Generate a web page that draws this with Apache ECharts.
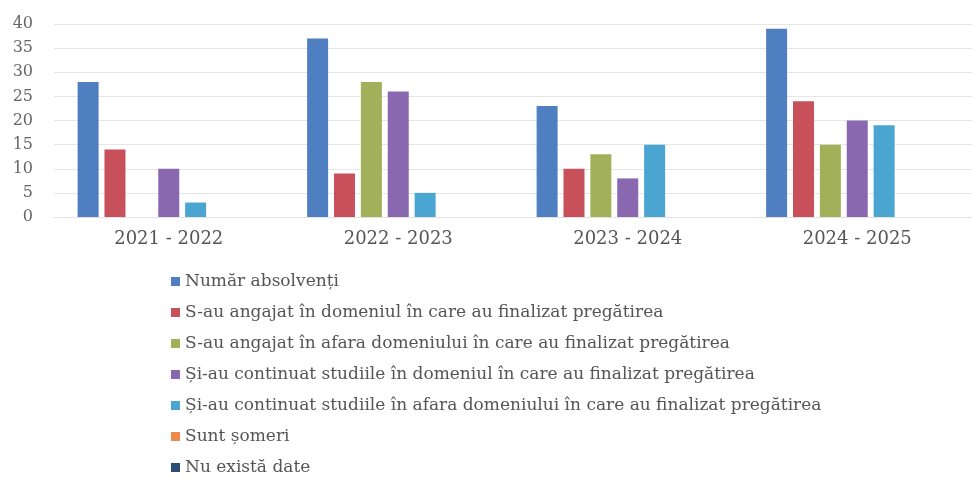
<!DOCTYPE html>
<html>
<head>
<meta charset="utf-8">
<script src="https://cdn.jsdelivr.net/npm/echarts@6/dist/echarts.min.js"></script>
<style>
  html, body { margin: 0; padding: 0; background: #fff; }
  #chart { width: 972px; height: 477px; }
</style>
</head>
<body>
<div id="chart"></div>
<script>
    // ani scolari
    var years = ['2021 - 2022', '2022 - 2023', '2023 - 2024', '2024 - 2025'];

    var seriesNames = [
        'Număr absolvenți',
        'S-au angajat în domeniul în care au finalizat pregătirea',
        'S-au angajat în afara domeniului în care au finalizat pregătirea',
        'Și-au continuat studiile în domeniul în care au finalizat pregătirea',
        'Și-au continuat studiile în afara domeniului în care au finalizat pregătirea',
        'Sunt șomeri',
        'Nu există date'
    ];

    var absolventi = [28, 37, 23, 39];
    var angajatDomeniu = [14, 9, 10, 24];
    var angajatAfara = [0, 28, 13, 15];
    var studiiDomeniu = [10, 26, 8, 20];
    var studiiAfara = [3, 5, 15, 19];
    var someri = [0, 0, 0, 0];
    var faraDate = [0, 0, 0, 0];

    var yTicks = [0, 5, 10, 15, 20, 25, 30, 35, 40];

    var values = [absolventi, angajatDomeniu, angajatAfara, studiiDomeniu, studiiAfara, someri, faraDate];
    var colors = ['#4f7fc0', '#c8505a', '#a3b05a', '#8a68b0', '#4aa6d0', '#f08a4b', '#2c4d75'];

    var font = 'DejaVu Serif';

    var chart = echarts.init(document.getElementById('chart'));

    var option = {
        backgroundColor: '#fff',
        animation: false,
        grid: { left: 54, right: -10, top: 24, bottom: 260 },
        legend: {
            orient: 'vertical',
            left: 166,
            top: 268,
            height: 209,
            itemWidth: 9,
            itemHeight: 9,
            itemGap: 14,
            icon: 'rect',
            data: seriesNames,
            textStyle: { fontFamily: font, fontSize: 17, color: '#555', lineHeight: 17 }
        },
        xAxis: {
            type: 'category',
            data: years,
            axisLine: { show: true, lineStyle: { color: '#e2e2e2' } },
            axisTick: { show: false },
            axisLabel: { margin: 13, fontFamily: font, fontSize: 18, color: '#555' }
        },
        yAxis: {
            type: 'value',
            min: yTicks[0],
            max: yTicks[yTicks.length - 1],
            interval: 5,
            axisLine: { show: false },
            axisTick: { show: false },
            splitLine: { lineStyle: { color: '#e6e6e6' } },
            axisLabel: { margin: 21, fontFamily: font, fontSize: 16, color: '#666' }
        },
        series: seriesNames.map(function (name, i) {
            return {
                name: name,
                type: 'bar',
                data: values[i],
                barWidth: 21,
                barGap: '28%',
                itemStyle: { color: colors[i] }
            };
        })
    };

    chart.setOption(option);
</script>
</body>
</html>
